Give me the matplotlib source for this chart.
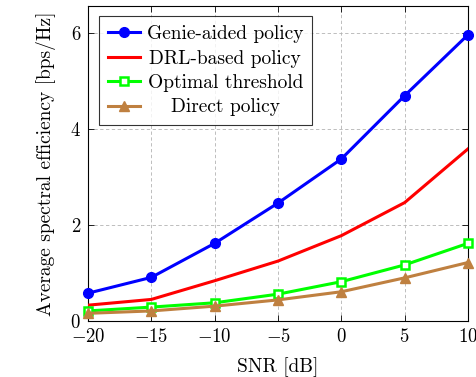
import matplotlib
matplotlib.use("Agg")
import matplotlib.pyplot as plt
from matplotlib.ticker import FuncFormatter
from matplotlib.transforms import Affine2D

plt.rcParams["font.family"] = "serif"
plt.rcParams["font.serif"] = ["cmr10"]
plt.rcParams["mathtext.fontset"] = "cm"
plt.rcParams["axes.unicode_minus"] = True

snr_db = [-20, -15, -10, -5, 0, 5, 10]
genie_aided = [0.58, 0.91, 1.62, 2.46, 3.38, 4.70, 5.97]
drl_based = [0.33, 0.45, 0.84, 1.25, 1.78, 2.47, 3.59]
optimal_threshold = [0.21, 0.29, 0.38, 0.56, 0.82, 1.17, 1.62]
direct_policy = [0.16, 0.21, 0.31, 0.44, 0.61, 0.90, 1.22]

x_ticks = [-20, -15, -10, -5, 0, 5, 10]
y_ticks = [0, 2, 4, 6]

fig = plt.figure(figsize=(4.76, 3.77), dpi=100)
ax = fig.add_axes([88 / 476, 56 / 377, (468 - 88) / 476, (321 - 6) / 377])

lw = 2.2
ax.plot(snr_db, genie_aided, color="#0000ff", lw=lw, marker="o", ms=7,
        label="Genie-aided policy", zorder=3, clip_on=False)
ax.plot(snr_db, drl_based, color="#ff0000", lw=lw,
        label="DRL-based policy", zorder=3)
ax.plot(snr_db, optimal_threshold, color="#00ff00", lw=lw, marker="s", ms=6,
        mfc="white", mec="#00ff00", mew=1.8, label="Optimal threshold",
        zorder=3, clip_on=False)
ax.plot(snr_db, direct_policy, color="#bf8040", lw=lw, marker="^", ms=7.5,
        label="Direct policy", zorder=3, clip_on=False)

ax.set_xlim(-20, 10)
ax.set_ylim(0, 6.57)
ax.set_xticks(x_ticks)
ax.set_yticks(y_ticks)
fmt = FuncFormatter(lambda v, p: r"$%d$" % v)
ax.xaxis.set_major_formatter(fmt)
ax.yaxis.set_major_formatter(fmt)
ax.tick_params(direction="in", top=True, right=True, length=4, width=0.6,
               labelsize=13.5, colors="black")
ax.tick_params(axis="x", pad=5)
ax.tick_params(axis="y", pad=5)
for s in ax.spines.values():
    s.set_linewidth(0.8)
ax.grid(True, color="#b3b3b3", ls=(0, (4, 3)), lw=0.6)
ax.set_axisbelow(True)

ax.set_xlabel("SNR [dB]", fontsize=14, labelpad=8)
ax.set_ylabel("Average spectral efficiency [bps/Hz]", fontsize=14, labelpad=10)

leg = ax.legend(loc="upper left", bbox_to_anchor=(0.03, 0.967), fontsize=14,
                frameon=True, fancybox=False, edgecolor="black",
                handlelength=1.65, handletextpad=0.35, borderpad=0.45,
                labelspacing=0.33, borderaxespad=0)
leg.get_frame().set_linewidth(0.8)

# centre each entry's text inside the legend's text column
fig.canvas.draw()
texts = leg.get_texts()
widths = [t.get_window_extent().width for t in texts]
col_w = max(widths)
for t, w in zip(texts, widths):
    off = (col_w - w) / 2.0
    if off > 0:
        t.set_transform(t.get_transform() + Affine2D().translate(off, 0))

fig.savefig("out.png", dpi=100)
